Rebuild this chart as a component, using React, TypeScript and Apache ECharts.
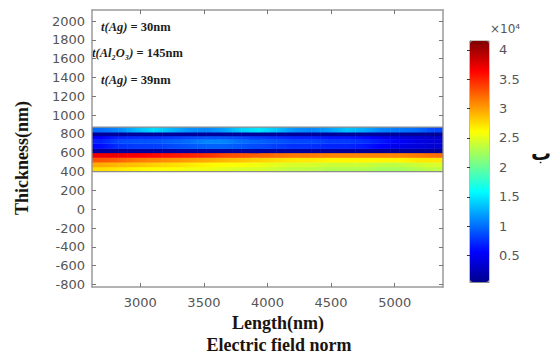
import React, { useEffect, useRef } from "react";
import * as echarts from "echarts";

// Length bins (nm) and layer bins (thickness, nm)
const lengthEdges = [2620, 2758, 2896, 3034, 3172, 3310, 3448, 3586, 3724, 3862, 4000, 4138, 4276, 4414, 4552, 4690, 4828, 4966, 5104, 5242, 5380];
const thicknessEdges = [400, 450, 500, 550, 600, 645, 700, 745, 780, 820, 872];

// Electric field norm (×10^4), one array per thickness bin, bottom to top
const field400 = [2.75, 2.7, 2.65, 2.6, 2.6, 2.55, 2.55, 2.5, 2.45, 2.45, 2.4, 2.35, 2.35, 2.3, 2.3, 2.3, 2.25, 2.25, 2.3, 2.35];
const field450 = [2.95, 2.9, 2.85, 2.8, 2.75, 2.7, 2.65, 2.6, 2.6, 2.55, 2.5, 2.45, 2.45, 2.4, 2.4, 2.4, 2.35, 2.35, 2.4, 2.45];
const field500 = [3.3, 3.25, 3.15, 3.1, 3.05, 3.0, 2.95, 2.9, 2.85, 2.8, 2.75, 2.7, 2.7, 2.65, 2.65, 2.65, 2.65, 2.65, 2.7, 2.7];
const field550 = [3.7, 3.7, 3.65, 3.6, 3.55, 3.5, 3.45, 3.35, 3.3, 3.25, 3.2, 3.15, 3.15, 3.1, 3.1, 3.1, 3.1, 3.1, 3.15, 3.2];
const field600 = [0.12, 0.1, 0.1, 0.1, 0.12, 0.12, 0.12, 0.1, 0.1, 0.1, 0.1, 0.1, 0.1, 0.1, 0.1, 0.1, 0.08, 0.08, 0.08, 0.08];
const field645 = [0.6, 0.75, 0.8, 0.8, 0.85, 0.9, 0.95, 0.95, 0.9, 0.85, 0.8, 0.75, 0.75, 0.7, 0.7, 0.65, 0.55, 0.45, 0.4, 0.35];
const field700 = [0.7, 0.85, 0.9, 0.9, 0.95, 1.0, 1.1, 1.1, 1.0, 0.95, 0.9, 0.85, 0.85, 0.8, 0.8, 0.75, 0.65, 0.55, 0.45, 0.4];
const field745 = [0.55, 0.7, 0.75, 0.75, 0.8, 0.85, 0.9, 0.9, 0.85, 0.8, 0.75, 0.7, 0.7, 0.65, 0.65, 0.6, 0.5, 0.42, 0.38, 0.32];
const field780 = [0.1, 0.1, 0.1, 0.1, 0.1, 0.1, 0.1, 0.1, 0.1, 0.1, 0.1, 0.1, 0.1, 0.1, 0.1, 0.1, 0.1, 0.1, 0.08, 0.08];
const field820 = [1.0, 1.1, 1.3, 1.45, 1.3, 1.15, 1.1, 1.2, 1.4, 1.5, 1.35, 1.15, 1.1, 1.2, 1.35, 1.25, 1.1, 1.05, 1.0, 0.85];

const fieldRows = [field400, field450, field500, field550, field600, field645, field700, field745, field780, field820];

const lengthTicks = [3000, 3500, 4000, 4500, 5000];
const thicknessTicks = [-800, -600, -400, -200, 0, 200, 400, 600, 800, 1000, 1200, 1400, 1600, 1800, 2000];
const colorbarTicks = [0.5, 1, 1.5, 2, 2.5, 3, 3.5, 4];
const fieldMin = 0.05;
const fieldMax = 4.15;

const layerNotes = [
  { t: "t(Ag)", v: " = 30nm" },
  { t: "t(Al\u2082O\u2083)", v: " = 145nm" },
  { t: "t(Ag)", v: " = 39nm" },
];

const jet = ["#00008f", "#0000ff", "#0080ff", "#00ffff", "#80ff80", "#ffff00", "#ff8000", "#ff0000", "#800000"];

const labelFont = "DejaVu Sans";
const serif = "Liberation Serif";
const axisGrey = "#9a9a9a";
const tickGrey = "#777";
const labelGrey = "#555";

function jetColor(v: number): string {
  const t = Math.min(1, Math.max(0, (v - fieldMin) / (fieldMax - fieldMin)));
  return echarts.color.lerp(t, jet) as string;
}

export default function App() {
  const ref = useRef<HTMLDivElement>(null);
  useEffect(() => {
    if (!ref.current) return;
    const chart = echarts.init(ref.current, undefined, { renderer: "svg" });

    const cells: number[][] = [];
    fieldRows.forEach((row, r) =>
      row.forEach((v, c) => {
        const prev = c > 0 ? row[c - 1] : v;
        const next = c < row.length - 1 ? row[c + 1] : v;
        cells.push([lengthEdges[c], lengthEdges[c + 1], thicknessEdges[r], thicknessEdges[r + 1], v, prev, next]);
      })
    );
    const outline = [[lengthEdges[0], lengthEdges[lengthEdges.length - 1], thicknessEdges[0], thicknessEdges[thicknessEdges.length - 1]]];

    const xMin = lengthEdges[0];
    const xMax = lengthEdges[lengthEdges.length - 1];
    const yMin = -827;
    const yMax = 2117;

    const fmt = (v: number) => String(v);

    const mainX = (pos: string, labels: boolean) => ({
      type: "value",
      gridIndex: 0,
      min: xMin,
      max: xMax,
      position: pos,
      axisLine: { show: true, onZero: false, lineStyle: { color: axisGrey, width: 1.5 } },
      axisTick: { show: true, inside: true, length: 4, customValues: lengthTicks, lineStyle: { color: tickGrey } },
      axisLabel: {
        show: labels,
        customValues: lengthTicks,
        formatter: fmt,
        margin: 9,
        color: labelGrey,
        fontFamily: labelFont,
        fontSize: 13,
      },
      splitLine: { show: false },
    });
    const mainY = (pos: string, labels: boolean) => ({
      type: "value",
      gridIndex: 0,
      min: yMin,
      max: yMax,
      position: pos,
      axisLine: { show: true, onZero: false, lineStyle: { color: axisGrey, width: 1.5 } },
      axisTick: { show: true, inside: true, length: 4, customValues: thicknessTicks, lineStyle: { color: tickGrey } },
      axisLabel: {
        show: labels,
        customValues: thicknessTicks,
        formatter: fmt,
        margin: 7,
        color: labelGrey,
        fontFamily: labelFont,
        fontSize: 13,
      },
      splitLine: { show: false },
    });
    const cbY = (pos: string, labels: boolean) => ({
      type: "value",
      gridIndex: 1,
      min: fieldMin,
      max: fieldMax,
      position: pos,
      axisLine: { show: true, lineStyle: { color: "#8a8a8a", width: 1.2 } },
      axisTick: { show: true, inside: true, length: 3, customValues: colorbarTicks, lineStyle: { color: "#333" } },
      axisLabel: {
        show: labels,
        customValues: colorbarTicks,
        formatter: fmt,
        margin: 10,
        color: labelGrey,
        fontFamily: labelFont,
        fontSize: 13,
      },
      splitLine: { show: false },
    });

    const option: any = {
      animation: false,
      backgroundColor: "#ffffff",
      grid: [
        { left: 92, top: 10, width: 351, height: 277, containLabel: false },
        { left: 470, top: 41, width: 19, height: 241, containLabel: false, show: true, borderColor: "#8a8a8a", borderWidth: 1 },
      ],
      xAxis: [
        mainX("bottom", true),
        mainX("top", false),
        { type: "value", gridIndex: 1, min: 0, max: 1, position: "bottom", axisLine: { show: true, onZero: false, lineStyle: { color: "#8a8a8a" } }, axisTick: { show: false }, axisLabel: { show: false }, splitLine: { show: false } },
        { type: "value", gridIndex: 1, min: 0, max: 1, position: "top", axisLine: { show: true, onZero: false, lineStyle: { color: "#8a8a8a" } }, axisTick: { show: false }, axisLabel: { show: false }, splitLine: { show: false } },
      ],
      yAxis: [mainY("left", true), mainY("right", false), cbY("right", true), cbY("left", false)],
      visualMap: {
        type: "continuous",
        min: fieldMin,
        max: fieldMax,
        dimension: 4,
        seriesIndex: 0,
        inRange: { color: jet },
        left: 470,
        top: 41,
        itemWidth: 19,
        itemHeight: 241,
        padding: 0,
        calculable: false,
        hoverLink: false,
        z: 1,
      },
      series: [
        {
          type: "custom",
          xAxisIndex: 0,
          yAxisIndex: 0,
          clip: true,
          data: cells,
          dimensions: ["x0", "x1", "y0", "y1", "field", "prev", "next"],
          encode: { x: [0, 1], y: [2, 3] },
          renderItem: (params: any, api: any) => {
            const v = api.value(4);
            const prev = api.value(5);
            const next = api.value(6);
            const p0 = api.coord([api.value(0), api.value(3)]);
            const p1 = api.coord([api.value(1), api.value(2)]);
            const w = p1[0] - p0[0];
            const h = p1[1] - p0[1] + 0.4;
            const cMid = jetColor(v);
            const cL = jetColor((v + prev) / 2);
            const cR = jetColor((v + next) / 2);
            return {
              type: "group",
              children: [
                {
                  type: "rect",
                  shape: { x: p0[0], y: p0[1], width: w / 2 + 0.5, height: h },
                  style: {
                    fill: new echarts.graphic.LinearGradient(0, 0, 1, 0, [
                      { offset: 0, color: cL },
                      { offset: 1, color: cMid },
                    ]),
                  },
                },
                {
                  type: "rect",
                  shape: { x: p0[0] + w / 2, y: p0[1], width: w / 2 + 0.5, height: h },
                  style: {
                    fill: new echarts.graphic.LinearGradient(0, 0, 1, 0, [
                      { offset: 0, color: cMid },
                      { offset: 1, color: cR },
                    ]),
                  },
                },
              ],
            };
          },
        },
        {
          type: "custom",
          xAxisIndex: 0,
          yAxisIndex: 0,
          clip: true,
          data: outline,
          encode: { x: [0, 1], y: [2, 3] },
          renderItem: (params: any, api: any) => {
            const p0 = api.coord([api.value(0), api.value(3)]);
            const p1 = api.coord([api.value(1), api.value(2)]);
            return {
              type: "rect",
              shape: { x: p0[0], y: p0[1], width: p1[0] - p0[0], height: p1[1] - p0[1] },
              style: { fill: "none", stroke: "#8c8c8c", lineWidth: 1.3 },
            };
          },
        },
      ],
      graphic: [
        ...layerNotes.map((n, i) => ({
          type: "text",
          x: [101, 92, 101][i],
          y: [27, 53, 80][i],
          style: {
            text: `{i|${n.t}}{b|${n.v}}`,
            textVerticalAlign: "middle",
            rich: {
              i: { fontFamily: serif, fontStyle: "italic", fontWeight: "bold", fontSize: 12.5, fill: "#1e1e1e" },
              b: { fontFamily: serif, fontWeight: "bold", fontSize: 12.5, fill: "#1e1e1e" },
            },
          },
        })),
        {
          type: "text",
          x: 278,
          y: 323,
          style: { text: "Length(nm)", textAlign: "center", textVerticalAlign: "middle", font: `bold 18px "${serif}"`, fill: "#1a1410" },
        },
        {
          type: "text",
          x: 279,
          y: 345,
          style: { text: "Electric field norm", textAlign: "center", textVerticalAlign: "middle", font: `bold 18px "${serif}"`, fill: "#1a1410" },
        },
        {
          type: "text",
          x: 22,
          y: 158,
          rotation: Math.PI / 2,
          style: { text: "Thickness(nm)", textAlign: "center", textVerticalAlign: "middle", font: `bold 18px "${serif}"`, fill: "#1a1410" },
        },
        {
          type: "text",
          x: 505,
          y: 29,
          style: { text: "\u00d710\u2074", textAlign: "center", textVerticalAlign: "middle", font: `12px "${labelFont}"`, fill: labelGrey },
        },
        {
          type: "text",
          x: 541,
          y: 153,
          style: { text: "\u0628", textAlign: "center", textVerticalAlign: "middle", font: `bold 20px "${labelFont}"`, fill: "#111" },
        },
      ],
    };
    chart.setOption(option);
    return () => chart.dispose();
  }, []);
  return <div ref={ref} style={{ position: "fixed", left: 0, top: 0, width: 552, height: 356 }} />;
}
